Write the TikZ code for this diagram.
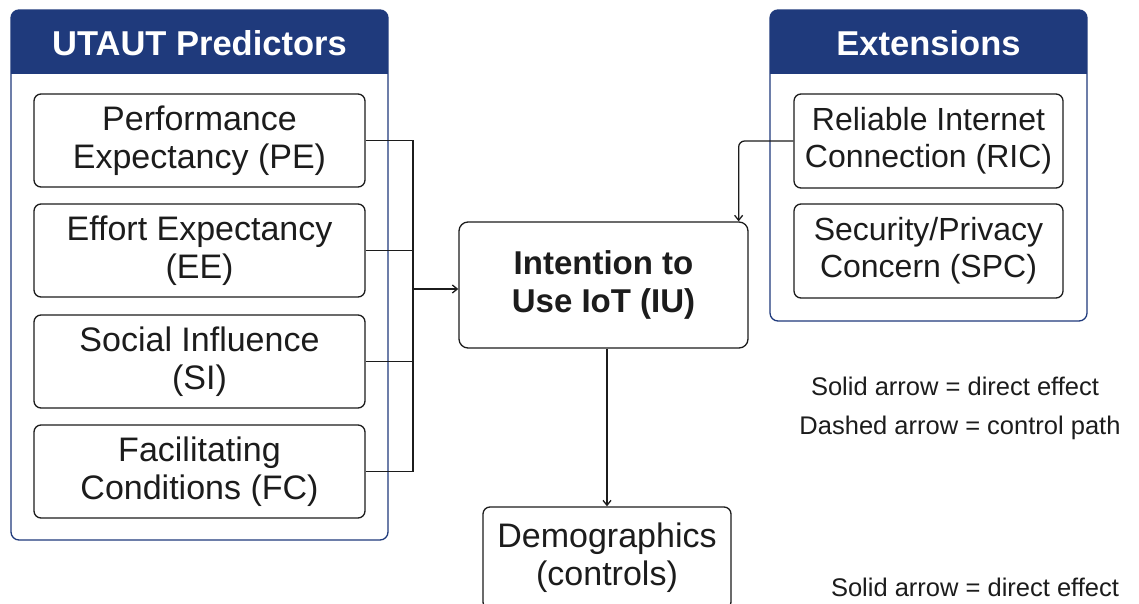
\documentclass[tikz,border=0pt]{standalone}
\usepackage{fontspec}
\setmainfont{Liberation Sans}
\usepackage{tikz}
\usetikzlibrary{calc,positioning,arrows.meta}

\definecolor{headblue}{HTML}{1F3A7C}
\definecolor{inkgray}{HTML}{1C1C1C}

\begin{document}
\begin{tikzpicture}[x=1pt,y=-1pt,line width=1.3pt,draw=inkgray,
		>={Straight Barb[length=5pt,width=8pt]},
		group/.style={draw=headblue,line width=1.3pt,rounded corners=8pt},
		grouptitle/.style={text=white,font=\fontsize{34.5}{40}\selectfont\bfseries},
		factor/.style={draw=inkgray,rounded corners=7pt,align=center,inner sep=0pt,
			text=inkgray,font=\fontsize{34}{38}\selectfont,minimum height=93pt},
		outcome/.style={factor,rounded corners=9pt,font=\fontsize{33}{38}\selectfont\bfseries},
		legend/.style={text=inkgray,font=\fontsize{25.5}{30}\selectfont}]
		\useasboundingbox (0,0) rectangle (1139,604);
		\fill[white] (0,0) rectangle (1139,604);

		% UTAUT group frame
		\begin{scope}
			\clip[rounded corners=8pt] (11,10) rectangle (388,540);
			\fill[headblue] (11,10) rectangle (388,74);
		\end{scope}
		\draw[group] (11,10) rectangle (388,540);
		\node (utaut) [grouptitle] at (199.5,43) {UTAUT Predictors};

		\node (pe) [factor,minimum width=331pt] at (199.5,140.5) {Performance\\Expectancy (PE)};
		\node (ee) [factor,minimum width=331pt] at (199.5,250.5) {Effort Expectancy\\(EE)};
		\node (si) [factor,minimum width=331pt] at (199.5,361.5) {Social Influence\\(SI)};
		\node (fc) [factor,minimum width=331pt] at (199.5,471.5) {Facilitating\\Conditions (FC)};

		% Extensions group frame
		\begin{scope}
			\clip[rounded corners=8pt] (770,10) rectangle (1087,321);
			\fill[headblue] (770,10) rectangle (1087,74);
		\end{scope}
		\draw[group] (770,10) rectangle (1087,321);
		\node (ext) [grouptitle] at (928.5,43) {Extensions};

		\node (ric) [factor,font=\fontsize{32}{37}\selectfont,minimum width=269pt,minimum height=94pt] at (928.5,141) {Reliable Internet\\Connection (RIC)};
		\node (spc) [factor,font=\fontsize{32}{37}\selectfont,minimum width=269pt,minimum height=94pt] at (928.5,251) {Security/Privacy\\Concern (SPC)};

		\node (iu) [outcome,minimum width=289pt,minimum height=126pt] at (603.5,285) {Intention to\\Use IoT (IU)};
		\node (demo) [factor,minimum width=248pt,minimum height=102pt] at (607,558) {Demographics\\(controls)};

		% predictors join on one bus line
		\coordinate (bus) at (413,289);
		\draw (pe.east) -| (bus);
		\draw (fc.east) -| (bus);
		\draw (ee.east) -- (ee.east -| bus);
		\draw (si.east) -- (si.east -| bus);
		\draw[->] (bus) -- (bus -| iu.west);

		\draw[->,rounded corners=6pt] (ric.west) -| ($(iu.north east)+(-10,0)$);
		\draw[->] (iu.south -| demo.north) -- (demo.north);

		\node (solid) [legend] at (955,386) {Solid arrow = direct effect};
		\node (dashed) [legend] at (960,428) {Dashed arrow = control path};
		\node (solid2) [legend] at (975,587) {Solid arrow = direct effect};
	\end{tikzpicture}
\end{document}
